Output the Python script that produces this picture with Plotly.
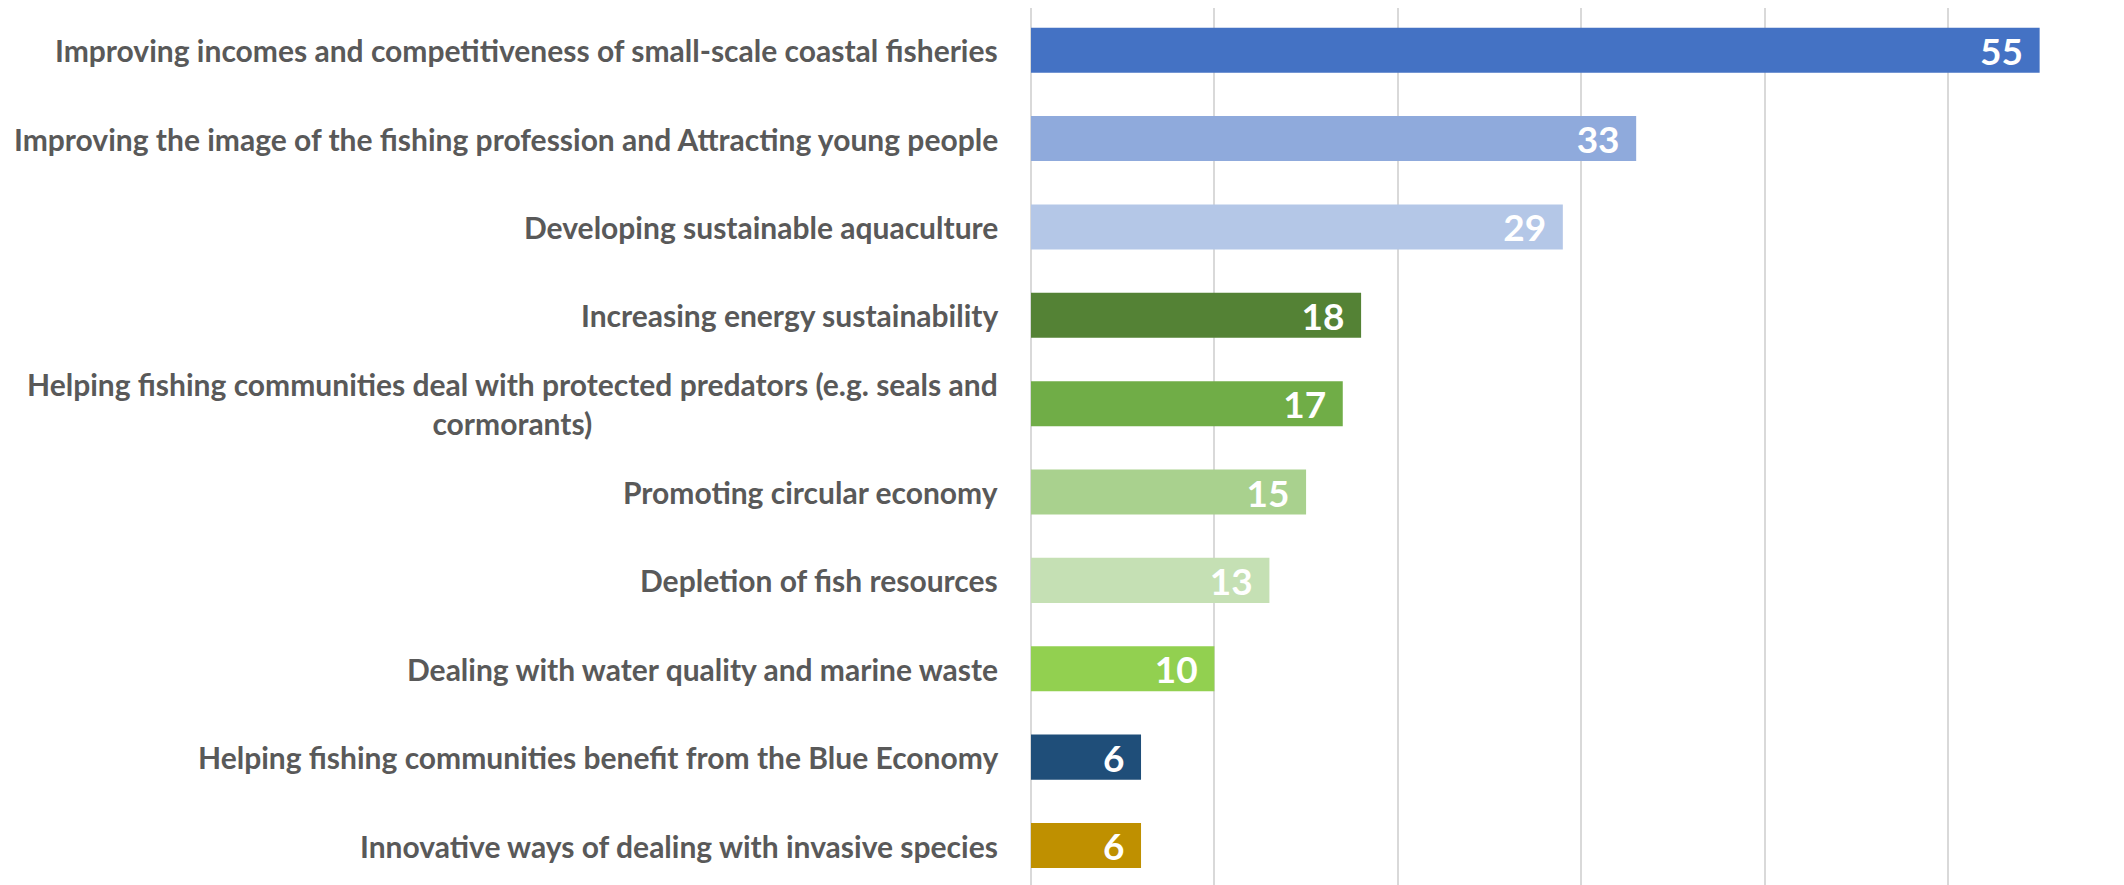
import plotly.graph_objects as go

categories = [
    "Improving incomes and competitiveness of small-scale coastal fisheries",
    "Improving the image of the fishing profession and Attracting young people",
    "Developing sustainable aquaculture",
    "Increasing energy sustainability",
    "Helping fishing communities deal with protected predators (e.g. seals and<br>cormorants)",
    "Promoting circular economy",
    "Depletion of fish resources",
    "Dealing with water quality and marine waste",
    "Helping fishing communities benefit from the Blue Economy",
    "Innovative ways of dealing with invasive species",
]
values = [55, 33, 29, 18, 17, 15, 13, 10, 6, 6]
colors = ["#4472C4", "#8FAADC", "#B4C7E7", "#548235", "#70AD47",
          "#A9D18E", "#C5E0B4", "#92D050", "#1F4E79", "#BF9000"]

idx = list(range(len(categories)))
FONT = "Lato, 'Open Sans', sans-serif"

fig = go.Figure(go.Bar(
    x=values, y=idx, orientation="h",
    marker=dict(color=colors, line=dict(width=0)),
    text=[f"{v}\u00a0\u2009" for v in values],
    textposition="inside", insidetextanchor="end", textangle=0,
    constraintext="none",
    textfont=dict(family=FONT, size=37, color="white", weight="bold"),
    hoverinfo="skip",
))

for i, c in enumerate(categories):
    fig.add_annotation(
        x=0, y=i, xref="x", yref="y", text=c, showarrow=False,
        xanchor="right", yanchor="middle", align="center", xshift=-31,
        font=dict(family=FONT, size=30, color="#595959", weight="bold"),
    )

fig.update_layout(
    width=2116, height=877,
    margin=dict(l=1023, r=0, t=0, b=0),
    paper_bgcolor="white", plot_bgcolor="white",
    bargap=0.49, showlegend=False,
    xaxis=dict(range=[0, 59.6], dtick=10, showgrid=True, gridcolor="#D9D9D9",
               gridwidth=1.5, zeroline=True, zerolinecolor="#D9D9D9",
               zerolinewidth=1.5, showticklabels=False, showline=False),
    yaxis=dict(range=[9.447, -0.4775], showticklabels=False, showgrid=False,
               zeroline=False, showline=False, ticks=""),
)

fig.write_html("out.html")
